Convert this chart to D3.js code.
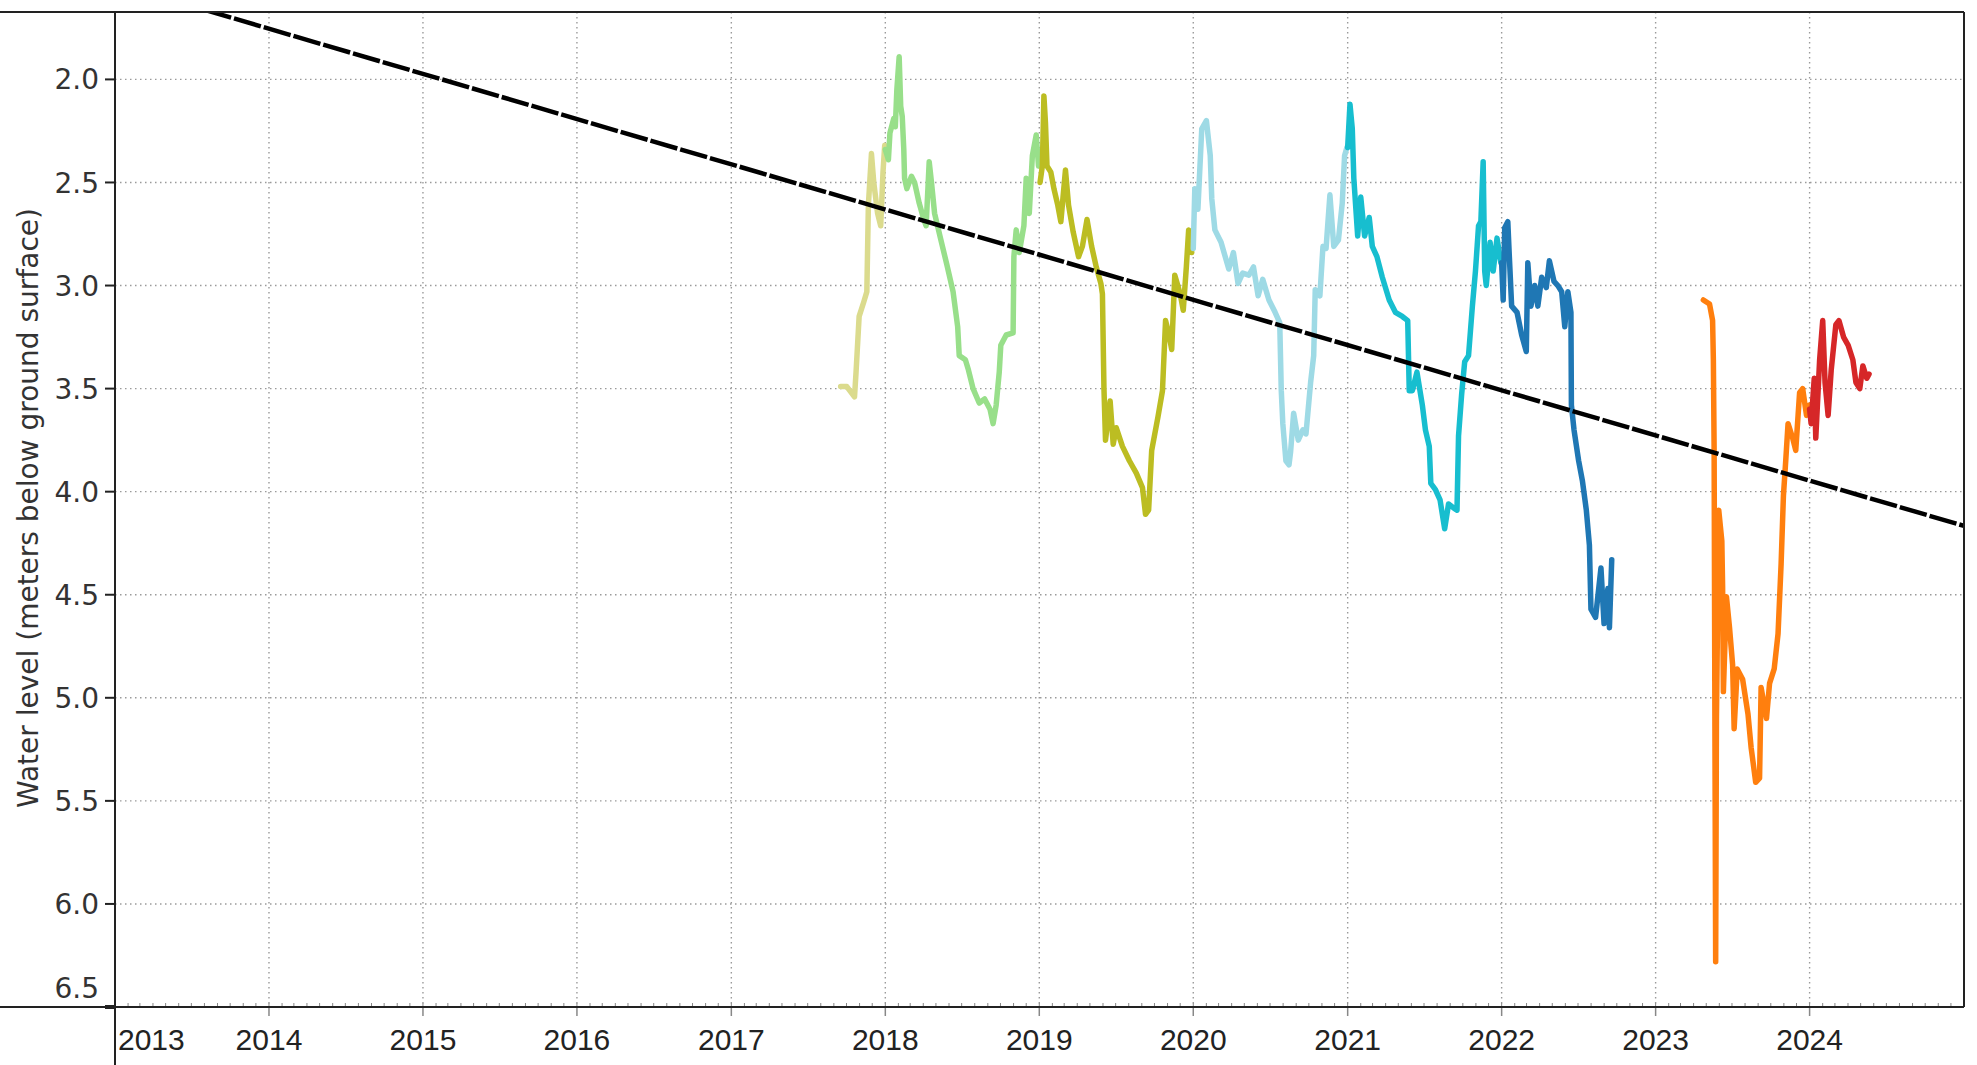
<!DOCTYPE html>
<meta charset="utf-8">
<script src="https://cdn.jsdelivr.net/npm/d3@7"></script>
<style>
  body { margin: 0; background: #fff; }
</style>
<body>
<script>

// water level series, [decimal year, metres below ground surface], one per year
var s2017 = [[2017.71,3.49],[2017.75,3.49],[2017.80,3.54],[2017.81,3.42],[2017.83,3.15],[2017.86,3.08],[2017.88,3.03],
  [2017.89,2.61],[2017.91,2.36],[2017.925,2.50],[2017.95,2.65],[2017.97,2.71],[2017.985,2.45],[2017.996,2.32]]
var s2018 = [[2018.00,2.34],[2018.02,2.39],[2018.03,2.26],[2018.055,2.19],[2018.065,2.23],[2018.075,2.05],[2018.09,1.89],
  [2018.10,2.13],[2018.11,2.18],[2018.12,2.34],[2018.125,2.48],[2018.14,2.53],[2018.17,2.47],[2018.19,2.50],[2018.22,2.60],
  [2018.25,2.68],[2018.265,2.71],[2018.285,2.40],[2018.30,2.50],[2018.32,2.65],[2018.355,2.76],[2018.40,2.90],[2018.44,3.03],
  [2018.47,3.20],[2018.48,3.34],[2018.52,3.36],[2018.54,3.41],[2018.57,3.50],[2018.61,3.57],[2018.645,3.55],[2018.68,3.60],
  [2018.70,3.67],[2018.72,3.58],[2018.74,3.42],[2018.75,3.29],[2018.785,3.24],[2018.83,3.23],[2018.835,2.86],[2018.85,2.73],
  [2018.87,2.84],[2018.90,2.71],[2018.915,2.48],[2018.935,2.65],[2018.955,2.37],[2018.98,2.27],[2018.995,2.42]]
var s2019 = [[2019.005,2.50],[2019.02,2.42],[2019.03,2.08],[2019.04,2.21],[2019.05,2.42],[2019.075,2.45],[2019.095,2.53],
  [2019.12,2.61],[2019.14,2.69],[2019.17,2.44],[2019.19,2.61],[2019.22,2.74],[2019.255,2.86],[2019.28,2.81],[2019.31,2.68],
  [2019.34,2.81],[2019.37,2.91],[2019.40,2.99],[2019.41,3.04],[2019.42,3.50],[2019.43,3.75],[2019.46,3.56],[2019.48,3.77],
  [2019.50,3.69],[2019.54,3.78],[2019.585,3.85],[2019.63,3.91],[2019.67,3.98],[2019.69,4.11],[2019.71,4.09],[2019.73,3.80],
  [2019.77,3.64],[2019.80,3.51],[2019.82,3.17],[2019.84,3.23],[2019.86,3.31],[2019.88,2.95],[2019.915,3.04],[2019.935,3.12],
  [2019.955,2.91],[2019.97,2.73],[2019.99,2.84]]
var s2020 = [[2020.00,2.82],[2020.01,2.53],[2020.03,2.63],[2020.055,2.24],[2020.085,2.20],[2020.11,2.37],[2020.12,2.58],
  [2020.14,2.73],[2020.18,2.79],[2020.23,2.92],[2020.26,2.84],[2020.29,2.99],[2020.32,2.94],[2020.36,2.95],[2020.39,2.91],
  [2020.42,3.05],[2020.45,2.97],[2020.49,3.07],[2020.53,3.13],[2020.56,3.18],[2020.57,3.51],[2020.58,3.67],[2020.60,3.85],
  [2020.62,3.87],[2020.63,3.81],[2020.65,3.62],[2020.68,3.75],[2020.71,3.70],[2020.73,3.72],[2020.76,3.47],[2020.78,3.34],
  [2020.79,3.02],[2020.82,3.05],[2020.84,2.81],[2020.86,2.82],[2020.885,2.56],[2020.91,2.81],[2020.94,2.78],[2020.965,2.60],
  [2020.98,2.37],[2020.995,2.33]]
var s2021 = [[2021.00,2.33],[2021.015,2.12],[2021.03,2.24],[2021.04,2.48],[2021.065,2.76],[2021.085,2.57],[2021.11,2.76],
  [2021.14,2.67],[2021.16,2.81],[2021.19,2.86],[2021.225,2.96],[2021.27,3.07],[2021.31,3.13],[2021.355,3.15],[2021.39,3.17],
  [2021.40,3.51],[2021.42,3.51],[2021.45,3.42],[2021.485,3.58],[2021.505,3.70],[2021.53,3.78],[2021.54,3.96],[2021.57,3.99],
  [2021.60,4.04],[2021.63,4.18],[2021.655,4.06],[2021.69,4.08],[2021.71,4.09],[2021.72,3.73],[2021.74,3.53],[2021.76,3.37],
  [2021.785,3.34],[2021.81,3.10],[2021.83,2.93],[2021.85,2.71],[2021.865,2.69],[2021.88,2.40],[2021.89,2.93],[2021.90,3.00],
  [2021.925,2.79],[2021.945,2.93],[2021.97,2.77],[2021.995,2.89]]
var s2022 = [[2022.00,2.89],[2022.01,3.07],[2022.02,2.72],[2022.04,2.69],[2022.05,2.86],[2022.065,3.10],[2022.10,3.13],
  [2022.13,3.24],[2022.16,3.32],[2022.17,2.89],[2022.19,3.10],[2022.215,3.00],[2022.235,3.10],[2022.26,2.96],[2022.29,3.01],
  [2022.31,2.88],[2022.34,2.98],[2022.365,3.00],[2022.39,3.03],[2022.41,3.20],[2022.43,3.03],[2022.45,3.13],[2022.453,3.58],
  [2022.47,3.70],[2022.50,3.85],[2022.525,3.95],[2022.55,4.09],[2022.57,4.26],[2022.58,4.57],[2022.61,4.61],
  [2022.645,4.37],[2022.665,4.64],[2022.69,4.47],[2022.70,4.66],[2022.715,4.33]]
var s2023 = [[2023.31,3.07],[2023.35,3.09],[2023.37,3.17],[2023.375,3.36],[2023.38,3.80],[2023.385,5.13],[2023.39,6.28],
  [2023.395,5.10],[2023.41,4.09],[2023.43,4.24],[2023.435,4.46],[2023.44,4.97],[2023.46,4.51],[2023.48,4.66],[2023.50,4.84],
  [2023.51,5.15],[2023.53,4.86],[2023.565,4.91],[2023.60,5.08],[2023.62,5.24],[2023.65,5.41],[2023.675,5.39],[2023.685,4.95],
  [2023.72,5.10],[2023.74,4.93],[2023.77,4.86],[2023.795,4.69],[2023.815,4.35],[2023.83,4.02],[2023.845,3.85],[2023.86,3.67],
  [2023.89,3.74],[2023.91,3.80],[2023.935,3.52],[2023.955,3.50],[2023.98,3.63],[2024.00,3.58]]
var s2024 = [[2024.00,3.60],[2024.01,3.67],[2024.03,3.45],[2024.04,3.74],[2024.065,3.36],[2024.085,3.17],[2024.10,3.47],
  [2024.12,3.63],[2024.14,3.41],[2024.17,3.19],[2024.19,3.17],[2024.22,3.25],[2024.25,3.29],[2024.28,3.36],[2024.30,3.47],
  [2024.325,3.50],[2024.345,3.39],[2024.37,3.45],[2024.385,3.43]]

var series = [s2017, s2018, s2019, s2020, s2021, s2022, s2023, s2024]
var seriesColors = ["#dbdb8d", "#98df8a", "#bcbd22", "#9edae5", "#17becf", "#1f77b4", "#ff7f0e", "#d62728"]

// linear trend, end points
var trendLine = [[2013.0, 1.535], [2025.0, 4.166]]

var yTicks = [2.0, 2.5, 3.0, 3.5, 4.0, 4.5, 5.0, 5.5, 6.0, 6.5]
var xYears = [2013, 2014, 2015, 2016, 2017, 2018, 2019, 2020, 2021, 2022, 2023, 2024]
var yLabel = "Water level (meters below ground surface)"

function toDate(t) {
  var y = Math.floor(t)
  var a = new Date(y, 0, 1), b = new Date(y + 1, 0, 1)
  return new Date(+a + (t - y) * (b - a))
}

var W = 1977, H = 1065
var plotL = 115, plotR = 1964, plotT = 12, plotB = 1007

var svg = d3.select("body").append("svg")
    .attr("width", W)
    .attr("height", H)
    .style("display", "block")

var x = d3.scaleTime()
    .domain([new Date(2013, 0, 1), new Date(2025, 0, 1)])
    .range([plotL, plotR])

var y = d3.scaleLinear()
    .domain([1.673, 6.5])
    .range([plotT, plotB])

svg.append("defs").append("clipPath").attr("id", "plot")
  .append("rect")
    .attr("x", plotL).attr("y", plotT)
    .attr("width", plotR - plotL).attr("height", plotB - plotT)

// dotted grid
var grid = svg.append("g").attr("stroke", "#9a9a9a").attr("stroke-width", 1.4)
    .attr("stroke-dasharray", "1.5,3.5")
grid.selectAll(".hg")
  .data(yTicks.filter(d => d < 6.5))
  .enter().append("line")
    .attr("x1", plotL).attr("x2", plotR)
    .attr("y1", d => y(d)).attr("y2", d => y(d))
grid.selectAll(".vg")
  .data(xYears.filter(d => d > 2013))
  .enter().append("line")
    .attr("x1", d => x(new Date(d, 0, 1))).attr("x2", d => x(new Date(d, 0, 1)))
    .attr("y1", plotT).attr("y2", plotB)

// minor monthly ticks and year ticks on the bottom axis
var months = d3.timeMonth.range(new Date(2013, 0, 1), new Date(2025, 0, 1))
svg.append("g").selectAll("line")
  .data(months)
  .enter().append("line")
    .attr("x1", d => x(d)).attr("x2", d => x(d))
    .attr("y1", plotB - 4).attr("y2", plotB)
    .attr("stroke", "#888").attr("stroke-width", 1)
svg.append("g").selectAll("line")
  .data(xYears)
  .enter().append("line")
    .attr("x1", d => x(new Date(d, 0, 1))).attr("x2", d => x(new Date(d, 0, 1)))
    .attr("y1", plotB).attr("y2", plotB + 9)
    .attr("stroke", "#888").attr("stroke-width", 1.5)

// data lines
var line = d3.line()
    .x(d => x(toDate(d[0])))
    .y(d => y(d[1]))
    .curve(d3.curveLinear)

var lines = svg.append("g").attr("clip-path", "url(#plot)")
lines.selectAll("path")
  .data(series)
  .enter().append("path")
    .attr("d", line)
    .attr("fill", "none")
    .attr("stroke", (d, i) => seriesColors[i])
    .attr("stroke-width", 5.5)
    .attr("stroke-linejoin", "round")
    .attr("stroke-linecap", "round")

lines.append("path")
    .attr("d", line(trendLine))
    .attr("fill", "none")
    .attr("stroke", "#000")
    .attr("stroke-width", 4.5)
    .attr("stroke-dasharray", "28,3")

// frame
var frame = svg.append("g").attr("stroke", "#222").attr("stroke-width", 2)
frame.append("line").attr("x1", 0).attr("x2", plotR).attr("y1", plotT).attr("y2", plotT)
frame.append("line").attr("x1", 0).attr("x2", plotR).attr("y1", plotB).attr("y2", plotB)
frame.append("line").attr("x1", plotL).attr("x2", plotL).attr("y1", plotT).attr("y2", H)
frame.append("line").attr("x1", plotR).attr("x2", plotR).attr("y1", plotT).attr("y2", plotB)

// y axis ticks and labels
svg.append("g").selectAll("line")
  .data(yTicks)
  .enter().append("line")
    .attr("x1", plotL - 10).attr("x2", plotL)
    .attr("y1", d => y(d)).attr("y2", d => y(d))
    .attr("stroke", "#222").attr("stroke-width", d => d == 6.5 ? 4 : 2)

svg.append("g").selectAll("text")
  .data(yTicks)
  .enter().append("text")
    .attr("x", 99)
    .attr("y", d => d == 6.5 ? y(d) - 19 : y(d))
    .attr("dy", "0.36em")
    .attr("text-anchor", "end")
    .style("font-family", "'DejaVu Sans', Verdana, sans-serif")
    .style("font-size", "28px")
    .style("fill", "#333")
    .text(d3.format(".1f"))

// x axis labels
svg.append("g").selectAll("text")
  .data(xYears)
  .enter().append("text")
    .attr("x", d => d == 2013 ? plotL + 3 : x(new Date(d, 0, 1)))
    .attr("y", 1050)
    .attr("text-anchor", d => d == 2013 ? "start" : "middle")
    .style("font-family", "'Liberation Sans', Arial, sans-serif")
    .style("font-size", "30px")
    .style("fill", "#222")
    .text(d => d)

svg.append("text")
    .attr("transform", "translate(38,508) rotate(-90)")
    .attr("text-anchor", "middle")
    .style("font-family", "'DejaVu Sans', Verdana, sans-serif")
    .style("font-size", "28px")
    .style("fill", "#333")
    .text(yLabel)

</script>
</body>
